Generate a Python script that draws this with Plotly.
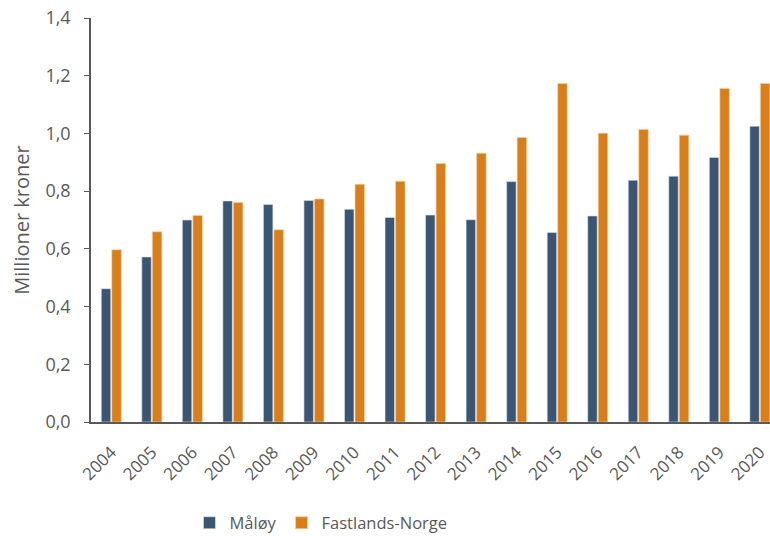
import plotly.graph_objects as go

years = [str(y) for y in range(2004, 2021)]
maloy = [0.462, 0.572, 0.700, 0.766, 0.754, 0.768, 0.737, 0.709, 0.717, 0.701,
         0.833, 0.657, 0.714, 0.838, 0.852, 0.917, 1.025]
fastland = [0.597, 0.659, 0.716, 0.761, 0.666, 0.773, 0.824, 0.834, 0.896, 0.931,
            0.986, 1.173, 1.001, 1.014, 0.994, 1.156, 1.173]
yticks = [0, 0.2, 0.4, 0.6, 0.8, 1.0, 1.2, 1.4]
yticklabels = ["0,0", "0,2", "0,4", "0,6", "0,8", "1,0", "1,2", "1,4"]

FONT = "Open Sans, Liberation Sans, sans-serif"
GRAY = "#595959"

fig = go.Figure()
fig.add_trace(go.Bar(x=years, y=maloy, name="Måløy",
                     marker=dict(color="#3B5675", line=dict(color="#dfe6ee", width=0.6))))
fig.add_trace(go.Bar(x=years, y=fastland, name="Fastlands-Norge",
                     marker=dict(color="#D97E18", line=dict(color="#f5d3a8", width=0.6))))

fig.update_layout(
    width=770, height=536,
    margin=dict(l=91, r=0, t=18, b=114, autoexpand=False),
    paper_bgcolor="white", plot_bgcolor="white",
    barmode="group", bargap=0.48, bargroupgap=0.1,
    font=dict(family=FONT, color=GRAY, size=16),
    showlegend=True,
    legend=dict(orientation="h", x=0.145, xanchor="left", y=-0.25, yanchor="middle",
                font=dict(size=16.5, color=GRAY), traceorder="normal",
                itemwidth=30),
)
fig.update_xaxes(
    type="category", range=[-0.5, 16.25],
    showline=True, linecolor=GRAY, linewidth=1.5,
    tickangle=-45, tickfont=dict(size=17, color=GRAY),
    ticks="", ticklabelstandoff=12,
    showgrid=False, zeroline=False,
)
fig.update_yaxes(
    range=[0, 1.4], tickvals=yticks, ticktext=yticklabels,
    showline=True, linecolor=GRAY, linewidth=1.5,
    ticks="outside", ticklen=5, tickcolor=GRAY,
    tickfont=dict(size=18, color=GRAY), ticklabelstandoff=10,
    showgrid=False, zeroline=False,
    title=dict(text="Millioner kroner", font=dict(size=20, color=GRAY), standoff=10),
)

fig.write_html("out.html", config={"displayModeBar": False},
               post_script="document.body.style.margin='0';")
